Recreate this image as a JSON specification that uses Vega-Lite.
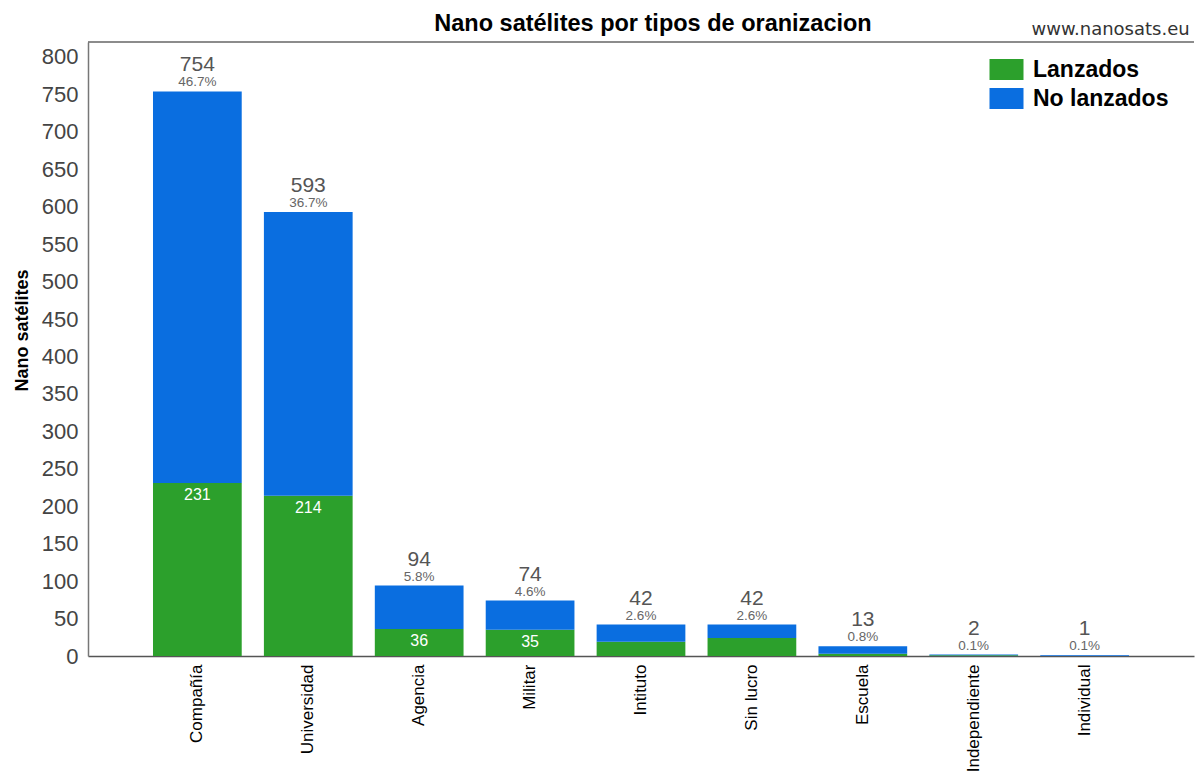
{
  "$schema": "https://vega.github.io/schema/vega-lite/v6.json",
  "width": 1106,
  "height": 614,
  "autosize": {"type": "none"},
  "padding": {"left": 88, "top": 42, "right": 1, "bottom": 124},
  "background": "white",
  "config": {
    "view": {"stroke": null},
    "font": "Liberation Sans",
    "axisY": {
      "titleFontSize": 18,
      "titleFontWeight": "bold",
      "titleColor": "#000000",
      "titlePadding": 10,
      "labelOverlap": false,
      "labelFontSize": 22,
      "labelColor": "#444444",
      "labelPadding": 10,
      "ticks": false,
      "grid": false,
      "domainColor": "#777777",
      "domainWidth": 1.5
    }
  },
  "title": {
    "text": "Nano satélites por tipos de oranizacion",
    "anchor": "middle",
    "frame": "group",
    "dx": 12,
    "offset": -14,
    "fontSize": 23.5,
    "fontWeight": "bold",
    "color": "#000000",
    "font": "Liberation Sans"
  },
  "datasets": {
    "bars": [
      {"org": "Compañía", "estado": "Lanzados", "n": 231},
      {"org": "Compañía", "estado": "No lanzados", "n": 523},
      {"org": "Universidad", "estado": "Lanzados", "n": 214},
      {"org": "Universidad", "estado": "No lanzados", "n": 379},
      {"org": "Agencia", "estado": "Lanzados", "n": 36},
      {"org": "Agencia", "estado": "No lanzados", "n": 58},
      {"org": "Militar", "estado": "Lanzados", "n": 35},
      {"org": "Militar", "estado": "No lanzados", "n": 39},
      {"org": "Intituto", "estado": "Lanzados", "n": 19},
      {"org": "Intituto", "estado": "No lanzados", "n": 23},
      {"org": "Sin lucro", "estado": "Lanzados", "n": 24},
      {"org": "Sin lucro", "estado": "No lanzados", "n": 18},
      {"org": "Escuela", "estado": "Lanzados", "n": 3},
      {"org": "Escuela", "estado": "No lanzados", "n": 10},
      {"org": "Independiente", "estado": "Lanzados", "n": 1},
      {"org": "Independiente", "estado": "No lanzados", "n": 1},
      {"org": "Individual", "estado": "Lanzados", "n": 0},
      {"org": "Individual", "estado": "No lanzados", "n": 1}
    ],
    "inner": [
      {"org": "Compañía", "n": 231},
      {"org": "Universidad", "n": 214},
      {"org": "Agencia", "n": 36},
      {"org": "Militar", "n": 35}
    ],
    "totals": [
      {"org": "Compañía", "total": 754, "pct": "46.7%"},
      {"org": "Universidad", "total": 593, "pct": "36.7%"},
      {"org": "Agencia", "total": 94, "pct": "5.8%"},
      {"org": "Militar", "total": 74, "pct": "4.6%"},
      {"org": "Intituto", "total": 42, "pct": "2.6%"},
      {"org": "Sin lucro", "total": 42, "pct": "2.6%"},
      {"org": "Escuela", "total": 13, "pct": "0.8%"},
      {"org": "Independiente", "total": 2, "pct": "0.1%"},
      {"org": "Individual", "total": 1, "pct": "0.1%"}
    ]
  },
  "layer": [
    {
      "data": {"name": "bars"},
      "mark": {"type": "bar"},
      "encoding": {
        "x": {
          "field": "org",
          "type": "nominal",
          "sort": ["Compañía", "Universidad", "Agencia", "Militar", "Intituto", "Sin lucro", "Escuela", "Independiente", "Individual"],
          "scale": {"paddingInner": 0.2, "paddingOuter": 0.586},
          "axis": {
            "title": null,
            "labelAngle": -90,
            "labelAlign": "right",
            "labelBaseline": "middle",
            "labelFontSize": 17,
            "labelColor": "#000000",
            "labelPadding": 8,
            "ticks": false,
            "domainColor": "#555555",
            "domainWidth": 1.5,
            "labelOverlap": false,
            "labelLimit": 0
          }
        },
        "y": {
          "field": "n",
          "type": "quantitative",
          "stack": "zero",
          "title": "Nano satélites",
          "scale": {"domain": [0, 820], "nice": false},
          "axis": {"titleY": 288, "values": [0, 50, 100, 150, 200, 250, 300, 350, 400, 450, 500, 550, 600, 650, 700, 750, 800]}
        },
        "color": {
          "field": "estado",
          "type": "nominal",
          "scale": {"domain": ["Lanzados", "No lanzados"], "range": ["#2CA02C", "#0A6EE0"]},
          "legend": {
            "title": null,
            "orient": "none",
            "legendX": 907,
            "legendY": 16,
            "padding": 0,
            "symbolType": "M-1.7,-1.05H1.7V1.05H-1.7Z",
            "symbolSize": 400,
            "symbolStrokeWidth": 0,
            "symbolOpacity": 1,
            "labelOffset": 15,
            "labelFontSize": 23,
            "labelFontWeight": "bold",
            "labelColor": "#000000",
            "rowPadding": 5
          }
        },
        "order": {"field": "estado", "sort": "ascending"}
      }
    },
    {
      "data": {"name": "inner"},
      "mark": {"type": "text", "baseline": "middle", "align": "center", "dy": 12, "fontSize": 16, "color": "#ffffff"},
      "encoding": {
        "x": {"field": "org", "type": "nominal", "sort": ["Compañía", "Universidad", "Agencia", "Militar", "Intituto", "Sin lucro", "Escuela", "Independiente", "Individual"]},
        "y": {"field": "n", "type": "quantitative", "title": "Nano satélites", "axis": {"titleY": 288, "values": [0, 50, 100, 150, 200, 250, 300, 350, 400, 450, 500, 550, 600, 650, 700, 750, 800]}},
        "text": {"field": "n", "type": "quantitative"}
      }
    },
    {
      "data": {"name": "totals"},
      "mark": {"type": "text", "baseline": "middle", "align": "center", "dy": -26, "fontSize": 21, "color": "#555555"},
      "encoding": {
        "x": {"field": "org", "type": "nominal", "sort": ["Compañía", "Universidad", "Agencia", "Militar", "Intituto", "Sin lucro", "Escuela", "Independiente", "Individual"]},
        "y": {"field": "total", "type": "quantitative", "title": "Nano satélites", "axis": {"titleY": 288, "values": [0, 50, 100, 150, 200, 250, 300, 350, 400, 450, 500, 550, 600, 650, 700, 750, 800]}},
        "text": {"field": "total", "type": "quantitative"}
      }
    },
    {
      "data": {"name": "totals"},
      "mark": {"type": "text", "baseline": "middle", "align": "center", "dy": -9, "fontSize": 13.5, "color": "#666666"},
      "encoding": {
        "x": {"field": "org", "type": "nominal", "sort": ["Compañía", "Universidad", "Agencia", "Militar", "Intituto", "Sin lucro", "Escuela", "Independiente", "Individual"]},
        "y": {"field": "total", "type": "quantitative", "title": "Nano satélites", "axis": {"titleY": 288, "values": [0, 50, 100, 150, 200, 250, 300, 350, 400, 450, 500, 550, 600, 650, 700, 750, 800]}},
        "text": {"field": "pct", "type": "nominal"}
      }
    },
    {
      "data": {"values": [{}]},
      "mark": {"type": "rule", "color": "#666666", "strokeWidth": 1.5},
      "encoding": {
        "y": {"datum": 820, "type": "quantitative", "title": "Nano satélites", "axis": {"titleY": 288, "values": [0, 50, 100, 150, 200, 250, 300, 350, 400, 450, 500, 550, 600, 650, 700, 750, 800]}}
      }
    },
    {
      "data": {"values": [{"url": "www.nanosats.eu"}]},
      "mark": {"type": "text", "align": "right", "baseline": "alphabetic", "dx": 105, "dy": -7, "fontSize": 18, "color": "#333333", "font": "DejaVu Sans", "fontWeight": "normal"},
      "encoding": {
        "x": {"datum": "Individual", "type": "nominal"},
        "y": {"datum": 820, "type": "quantitative", "title": "Nano satélites", "axis": {"titleY": 288, "values": [0, 50, 100, 150, 200, 250, 300, 350, 400, 450, 500, 550, 600, 650, 700, 750, 800]}},
        "text": {"field": "url", "type": "nominal"}
      }
    }
  ]
}
